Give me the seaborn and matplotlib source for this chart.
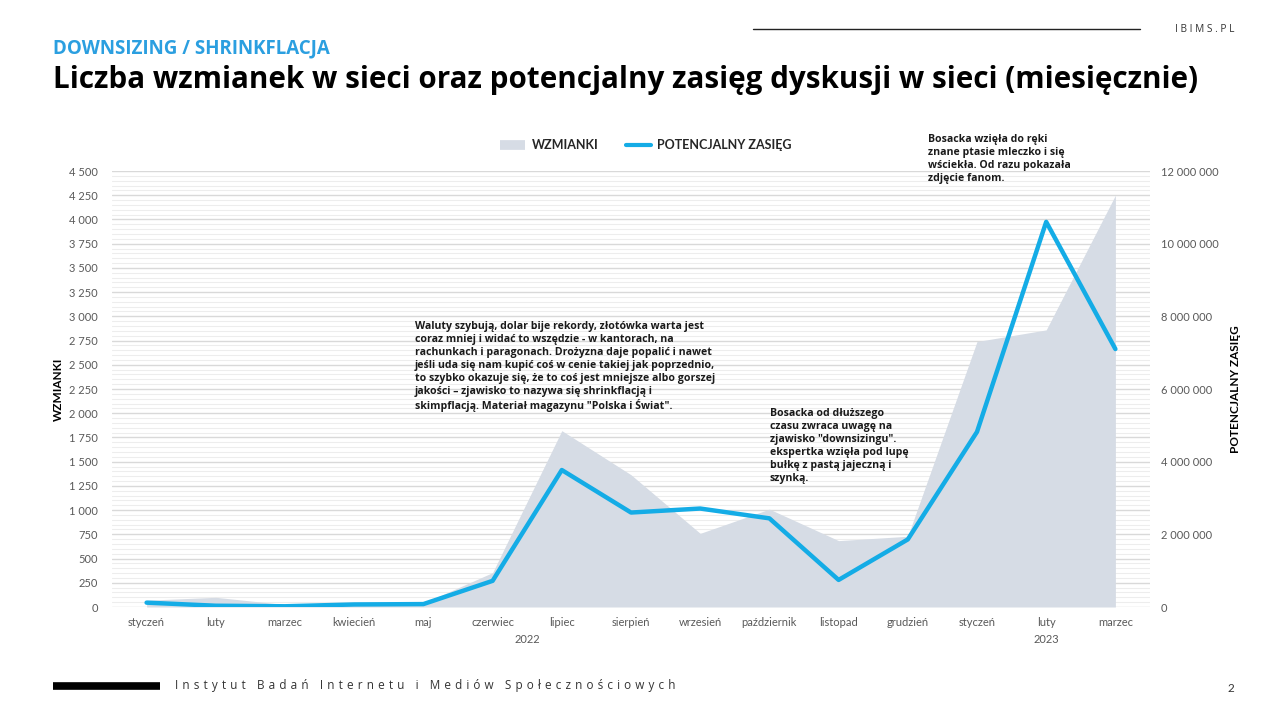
import numpy as np
import pandas as pd
import matplotlib
matplotlib.use("Agg")
import matplotlib.pyplot as plt
from matplotlib.ticker import MultipleLocator, FuncFormatter
from matplotlib.lines import Line2D
import seaborn as sns

# ---- data ----
months = ["styczeń", "luty", "marzec", "kwiecień", "maj", "czerwiec", "lipiec",
          "sierpień", "wrzesień", "październik", "listopad", "grudzień",
          "styczeń", "luty", "marzec"]
years = ["2022", "2023"]
year_spans = [(0, 11), (12, 14)]
wzmianki = [70, 100, 25, 35, 40, 355, 1820, 1365, 760, 1010, 685, 730, 2740, 2860, 4250]
zasieg = [120000, 35000, 20000, 70000, 80000, 720000, 3770000, 2600000, 2710000,
          2440000, 745000, 1860000, 4820000, 10600000, 7100000]

subtitle = "DOWNSIZING / SHRINKFLACJA"
title = "Liczba wzmianek w sieci oraz potencjalny zasięg dyskusji w sieci (miesięcznie)"
note1 = ("Waluty szybują, dolar bije rekordy, złotówka warta jest\n"
         "coraz mniej i widać to wszędzie - w kantorach, na\n"
         "rachunkach i paragonach. Drożyzna daje popalić i nawet\n"
         "jeśli uda się nam kupić coś w cenie takiej jak poprzednio,\n"
         "to szybko okazuje się, że to coś jest mniejsze albo gorszej\n"
         "jakości – zjawisko to nazywa się shrinkflacją i\n"
         "skimpflacją. Materiał magazynu \"Polska i Świat\".")
note2 = ("Bosacka od dłuższego\n"
         "czasu zwraca uwagę na\n"
         "zjawisko \"downsizingu\".\n"
         "ekspertka wzięła pod lupę\n"
         "bułkę z pastą jajeczną i\n"
         "szynką.")
note3 = ("Bosacka wzięła do ręki\n"
         "znane ptasie mleczko i się\n"
         "wściekła. Od razu pokazała\n"
         "zdjęcie fanom.")
footer = "Instytut Badań Internetu i Mediów Społecznościowych"

df = pd.DataFrame({"pos": np.arange(len(months)), "month": months,
                   "wzmianki": wzmianki, "zasieg": zasieg})

# ---- style ----
sns.set_theme(style="white")
plt.rcParams["font.family"] = ["Lato", "DejaVu Sans"]
HEAD = ["Open Sans", "DejaVu Sans"]

AREA = "#d6dce5"
BLUE = "#14ace6"
TXT = "#595959"

W, H = 1280, 720
fig = plt.figure(figsize=(12.8, 7.2), dpi=100)
fig.patch.set_facecolor("white")

x0, x1, y0, y1 = 112, 1150, 171, 607
ax = fig.add_axes([x0 / W, 1 - y1 / H, (x1 - x0) / W, (y1 - y0) / H])
ax2 = ax.twinx()
ax2.patch.set_visible(False)

# area
ax.fill_between(df["pos"], df["wzmianki"], 0, color=AREA, linewidth=0, zorder=2)
ax.set_ylim(0, 4500)
ax.set_xlim(-0.5, len(months) - 0.5)
ax.yaxis.set_major_locator(MultipleLocator(250))
ax.yaxis.set_minor_locator(MultipleLocator(50))
ax.grid(which="major", axis="y", color="#d9d9d9", linewidth=1.0, zorder=0)
ax.grid(which="minor", axis="y", color="#ededed", linewidth=0.8, zorder=0)
ax.grid(which="major", axis="x", visible=False)
ax.set_axisbelow(True)

def fmt_space(v, _):
    return f"{int(v):,}".replace(",", " ")

ax.yaxis.set_major_formatter(FuncFormatter(fmt_space))
ax.tick_params(axis="y", which="both", length=0, labelsize=8, labelcolor=TXT, pad=10)
ax.set_xticks(df["pos"])
ax.set_xticklabels(months)
ax.tick_params(axis="x", length=0, labelsize=8, labelcolor=TXT, pad=7)
for s in ax.spines.values():
    s.set_visible(False)
ax.set_ylabel("WZMIANKI", fontsize=8.5, fontweight="bold", color="black", labelpad=4)
ax.set_xlabel("")

# line
sns.lineplot(data=df, x="pos", y="zasieg", ax=ax2, color=BLUE, linewidth=3.2,
             zorder=5, legend=False)
ax2.set_ylim(0, 12000000)
ax2.yaxis.set_major_locator(MultipleLocator(2000000))
ax2.yaxis.set_major_formatter(FuncFormatter(fmt_space))
ax2.tick_params(axis="y", length=0, labelsize=8, labelcolor=TXT, pad=8)
ax2.grid(False)
for s in ax2.spines.values():
    s.set_visible(False)
ax2.set_ylabel("POTENCJALNY ZASIĘG", fontsize=8.5, fontweight="bold", color="black",
               labelpad=8)
ax2.set_xlabel("")
ax2.set_xlim(-0.5, len(months) - 0.5)

# year labels
trans = ax.get_xaxis_transform()
for yr, (a, b) in zip(years, year_spans):
    ax.text((a + b) / 2, -0.075, yr, transform=trans, ha="center", va="center",
            fontsize=8, color=TXT)

# legend
handles = [Line2D([0], [0], color=AREA, linewidth=7, solid_capstyle="butt"),
           Line2D([0], [0], color=BLUE, linewidth=3, solid_capstyle="round")]
leg = fig.legend(handles, ["WZMIANKI", "POTENCJALNY ZASIĘG"], loc="center",
                 bbox_to_anchor=(646 / W, 1 - 145 / H), ncol=2, frameon=False,
                 handlelength=2.0, handletextpad=0.5, columnspacing=2.2,
                 prop={"size": 9, "weight": "bold"})

# annotations
for txt, (tx, ty) in [(note1, (415, 321)), (note2, (770, 408)), (note3, (928, 134))]:
    fig.text(tx / W, 1 - ty / H, txt, ha="left", va="top", fontsize=7.6,
             fontweight="bold", color="#1a1a1a", linespacing=1.25, family=HEAD)

# header
fig.text(53 / W, 1 - 48 / H, subtitle, ha="left", va="center", fontsize=13.5,
         fontweight="bold", color="#2b9fe0", family=HEAD)
fig.text(53 / W, 1 - 80 / H, title, ha="left", va="center", fontsize=21.3,
         fontweight="bold", color="black", family=HEAD)
fig.add_artist(Line2D([753 / W, 1140 / W], [1 - 29 / H, 1 - 29 / H], color="#222222",
                      linewidth=1.0, transform=fig.transFigure))
fig.text(1175 / W, 1 - 29 / H, " ".join("IBIMS.PL"), ha="left", va="center",
         fontsize=7.3, color="#333333", family=HEAD)

# footer
fig.add_artist(Line2D([53 / W, 160 / W], [1 - 686 / H, 1 - 686 / H], color="black",
                      linewidth=5.5, solid_capstyle="butt", transform=fig.transFigure))
fig.text(175 / W, 1 - 686 / H, " \u200a".join(footer),
         ha="left", va="center", fontsize=8.5, color="#333333", family=HEAD)
fig.text(1231 / W, 1 - 688 / H, "2", ha="center", va="center", fontsize=8.5,
         color="#333333")

fig.savefig("out.png", dpi=100, facecolor="white")
